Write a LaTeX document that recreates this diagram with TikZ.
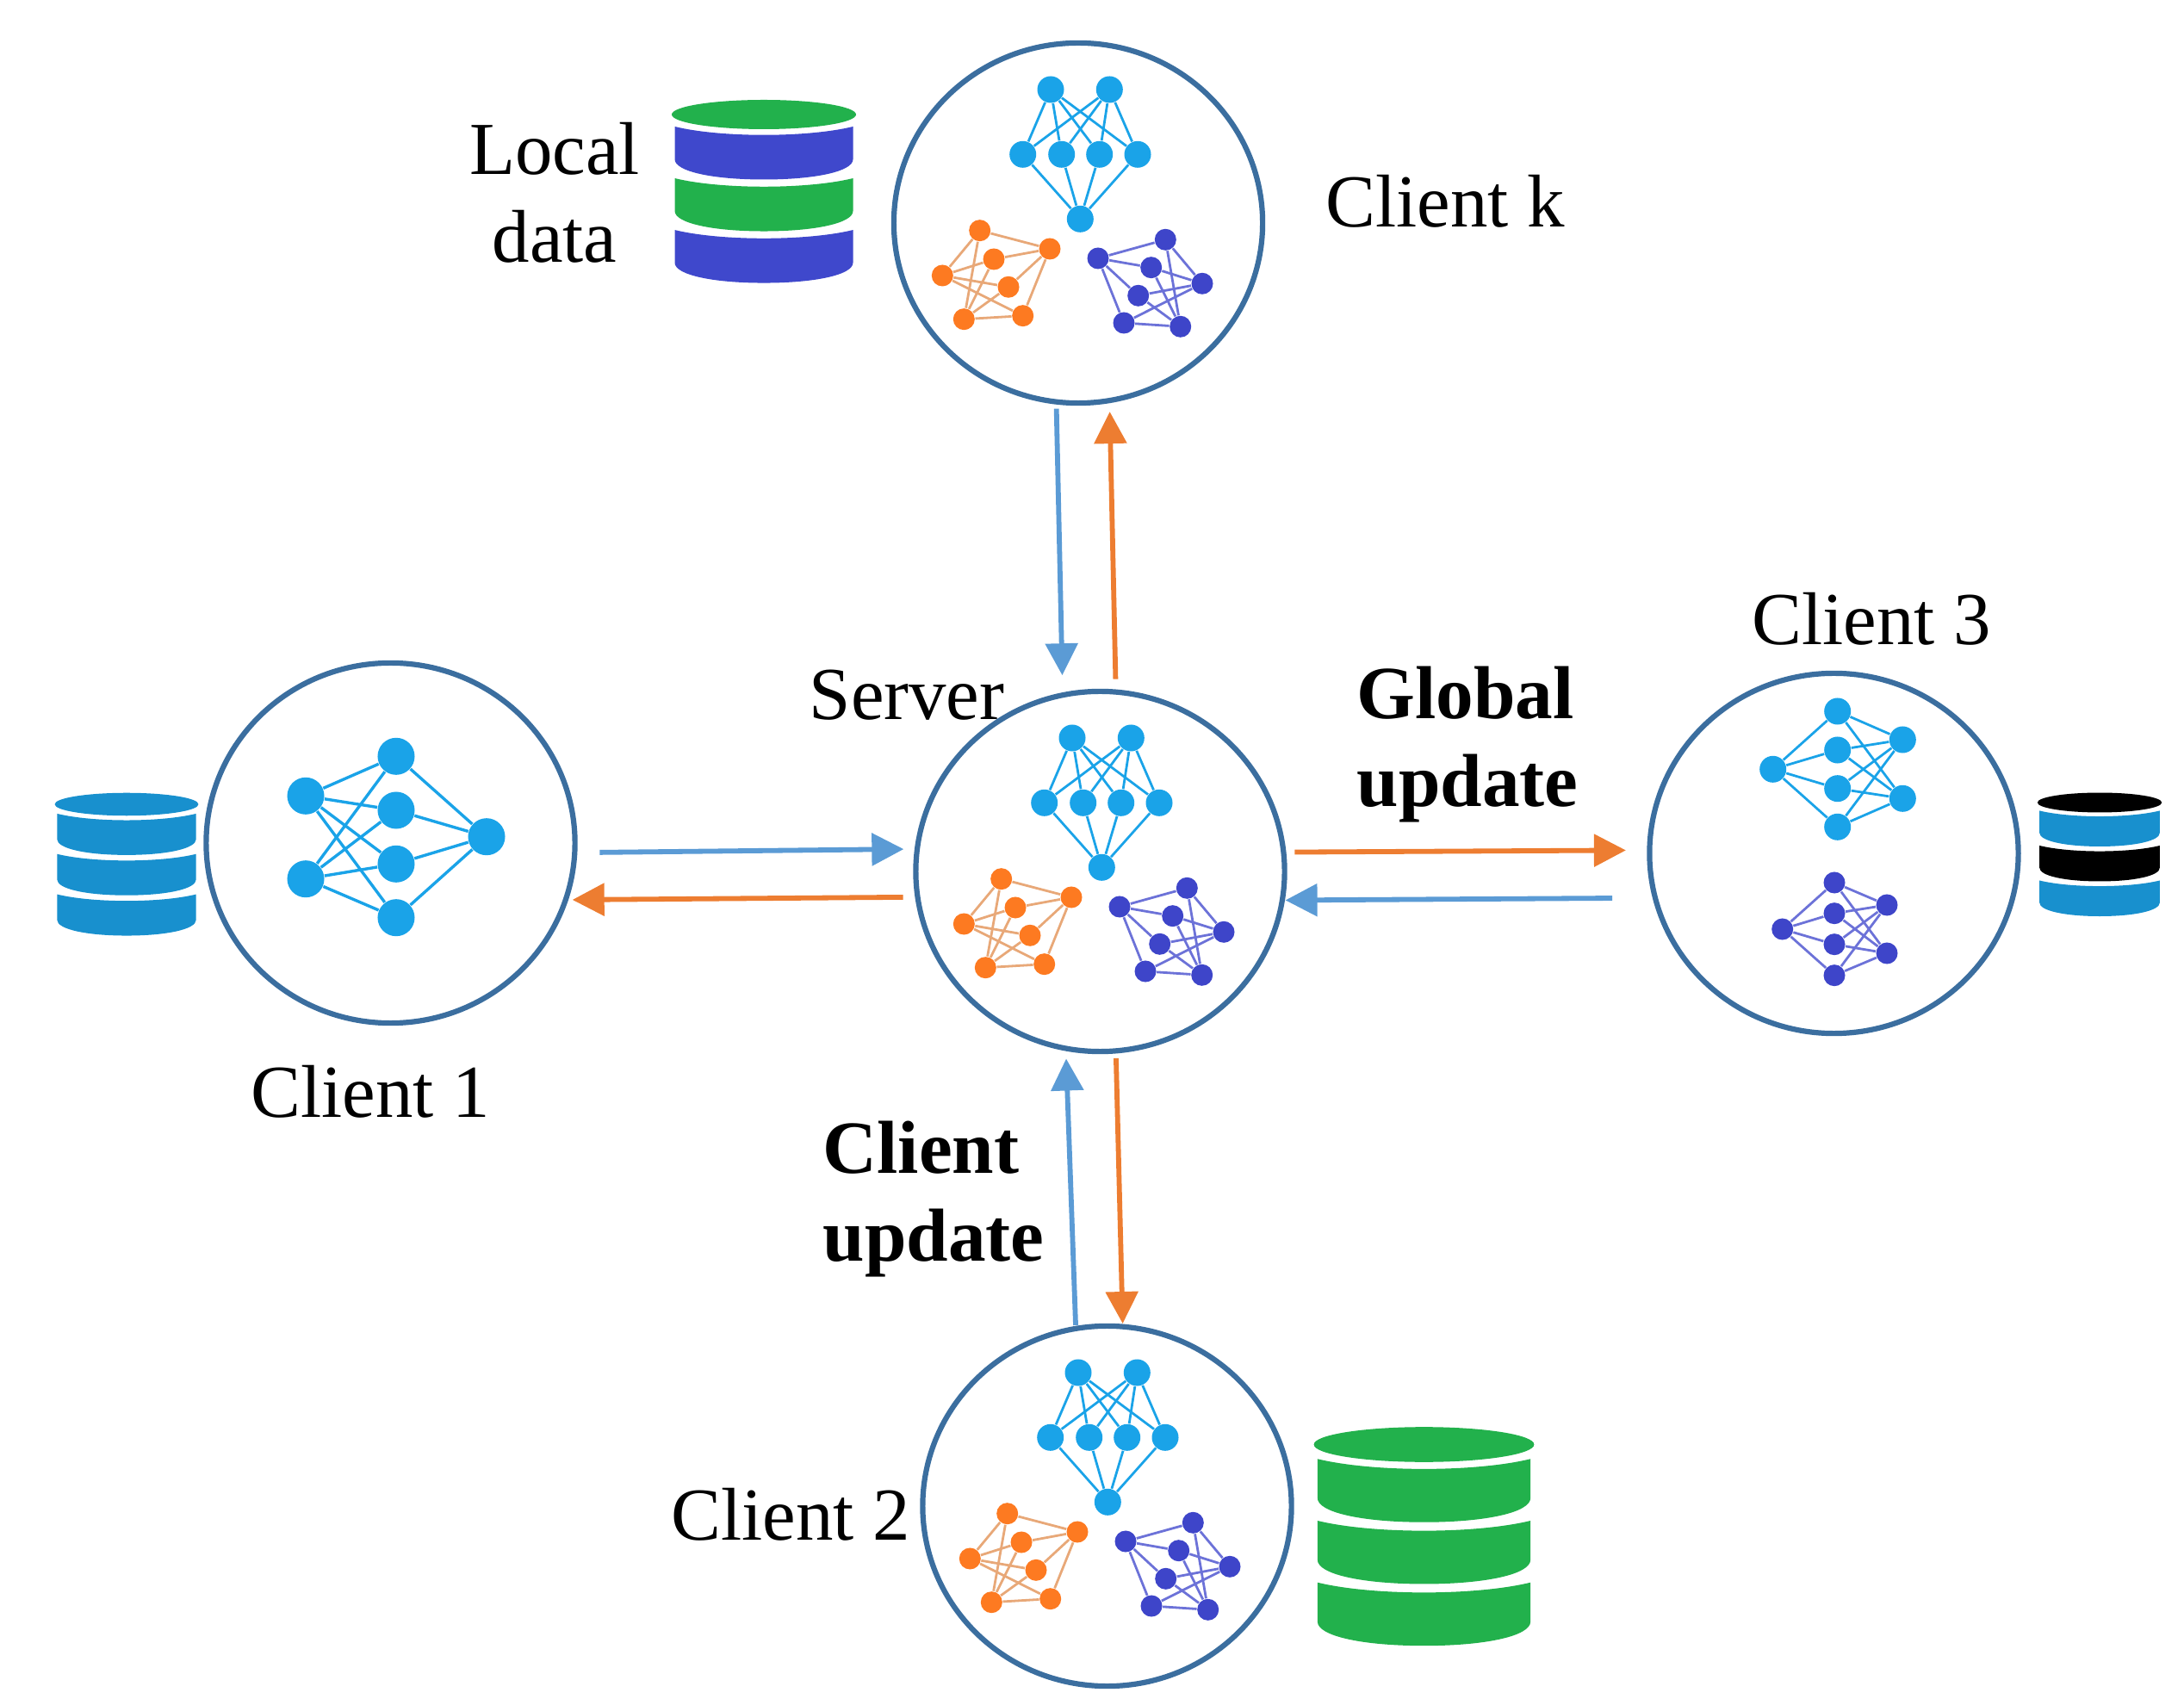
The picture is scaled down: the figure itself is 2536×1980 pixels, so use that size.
\documentclass[tikz,border=0pt]{standalone}
\usepackage{fontspec}
\setmainfont{Liberation Serif}
\usetikzlibrary{arrows.meta,shapes.geometric}
\definecolor{ringblue}{HTML}{3B6E9F}
\definecolor{netblue}{HTML}{1AA3E8}
\definecolor{netorange}{HTML}{FD7A21}
\definecolor{netpurple}{HTML}{3E45C9}
\definecolor{linkorange}{HTML}{E8A878}
\definecolor{linkpurple}{HTML}{6C72D8}
\definecolor{arrowblue}{HTML}{5B9BD5}
\definecolor{arrowred}{HTML}{ED7D31}
\definecolor{dbgreen}{HTML}{22B14C}
\definecolor{dbpurple}{HTML}{3F48CC}
\definecolor{dbblue}{HTML}{1890CE}
\tikzset{>={Triangle[length=.37cm,width=.37cm]}}
\tikzset{
  ring/.style={ellipse,draw=ringblue,line width=.062cm,minimum width=4.28cm,minimum height=4.18cm,inner sep=0,outer sep=0},
  bigdot/.style={circle,fill=netblue,minimum size=.43cm,inner sep=0},
  bluedot/.style={circle,fill=netblue,minimum size=.31cm,inner sep=0},
  orangedot/.style={circle,fill=netorange,minimum size=.25cm,inner sep=0},
  purpledot/.style={circle,fill=netpurple,minimum size=.25cm,inner sep=0},
  bluelink/.style={netblue,line width=.028cm},
  orangelink/.style={linkorange,line width=.028cm},
  purplelink/.style={linkpurple,line width=.028cm},
  uplink/.style={->,arrowblue,line width=.058cm},
  downlink/.style={->,arrowred,line width=.058cm},
  label/.style={font=\fontsize{24.7pt}{29pt}\selectfont,inner sep=0},
  boldlabel/.style={font=\fontsize{24.8pt}{29pt}\selectfont\bfseries,align=left,inner sep=0}
}
\newcommand{\dbband}[2]{
  \fill[#1,yshift=-#2cm] (-103.5,14) .. controls (-50,27) and (50,27) .. (103.5,14) -- (103.5,52) .. controls (103.5,66) and (60,75.5) .. (0,75.5) .. controls (-60,75.5) and (-103.5,66) .. (-103.5,52) -- cycle;
}
\newcommand{\dbstack}[7]{
  \begin{scope}[shift={(#1,#2)},scale=#3]
    \fill[#4] (0,0) ellipse (107 and 17);
    \dbband{#5}{0}
    \dbband{#6}{.6}
    \dbband{#7}{1.2}
  \end{scope}
}
\newcommand{\trionet}{
  \foreach \n/\x/\y in {a/-33/-154,b/35.3/-154,c/-65.3/-78.7,d/-20.3/-78.7,e/23.7/-78.7,f/68/-78.7,g/1.3/-3.7}
    \node[bluedot] (b\n) at (\x,\y) {};
  \foreach \n/\x/\y in {a/-115.3/9.7,b/-34/31,c/-99/43,d/-158.7/62,e/-82/75.3,f/-65.3/108.7,g/-133.7/112.7}
    \node[orangedot] (o\n) at (\x,\y) {};
  \foreach \n/\x/\y in {a/22/42,b/100.3/20.3,c/83.7/52.7,d/143/71.3,e/68.7/85.3,f/52/117,g/117.7/121.3}
    \node[purpledot] (p\n) at (\x,\y) {};
  \foreach \m in {c,d,e,f}{
    \draw[bluelink] (b\m) -- (bg);
    \draw[bluelink] (ba) -- (b\m);
    \draw[bluelink] (bb) -- (b\m);
  }
  \foreach \m in {a,c,e,f}{
    \draw[orangelink] (o\m) -- (ob);
    \draw[orangelink] (o\m) -- (od);
    \draw[orangelink] (o\m) -- (og);
  }
  \foreach \m in {b,c,e,f}{
    \draw[purplelink] (p\m) -- (pa);
    \draw[purplelink] (p\m) -- (pd);
    \draw[purplelink] (p\m) -- (pg);
  }
}
\begin{document}
\begin{tikzpicture}[x=.01cm,y=-.01cm]
  \useasboundingbox (0,0) rectangle (2536,1980);

  \node[ring] (clientk) at (1252,259) {};
  \node[ring] (clientone) at (453.5,979) {};
  \node[ring] (clienttwo) at (1285.5,1749) {};
  \node[ring] (clientthree) at (2129.5,991) {};
  \node[ring] (server) at (1277.5,1012) {};

  \begin{scope}[shift={(1253,258)},name prefix=k-] \trionet \end{scope}
  \begin{scope}[shift={(1278,1011)},name prefix=s-] \trionet \end{scope}
  \begin{scope}[shift={(1285,1748)},name prefix=t-] \trionet \end{scope}

  % client 1
  \foreach \n/\y in {a/924.3,b/1020.7} \node[bigdot] (c\n) at (355,\y) {};
  \foreach \n/\y in {c/878.3,d/941,e/1003.3,f/1065.7} \node[bigdot] (c\n) at (460,\y) {};
  \node[bigdot] (cg) at (565,971.7) {};
  \foreach \m in {c,d,e,f}{
    \draw[netblue,line width=.034cm] (ca) -- (c\m);
    \draw[netblue,line width=.034cm] (cb) -- (c\m);
    \draw[netblue,line width=.034cm] (c\m) -- (cg);
  }

  % client 3
  \node[bluedot] (ua) at (2058.7,893.3) {};
  \foreach \n/\y in {b/826,c/871,d/915.7,e/960.3} \node[bluedot] (u\n) at (2133.7,\y) {};
  \foreach \n/\y in {f/859,g/927.3} \node[bluedot] (u\n) at (2209.3,\y) {};
  \node[purpledot] (va) at (2069.7,1079) {};
  \foreach \n/\y in {b/1025,c/1060.7,d/1096.7,e/1132.7} \node[purpledot] (v\n) at (2130,\y) {};
  \foreach \n/\y in {f/1051,g/1107} \node[purpledot] (v\n) at (2191,\y) {};
  \foreach \m in {b,c,d,e}{
    \draw[bluelink] (ua) -- (u\m);
    \draw[bluelink] (u\m) -- (uf);
    \draw[bluelink] (u\m) -- (ug);
    \draw[purplelink] (va) -- (v\m);
    \draw[purplelink] (v\m) -- (vf);
    \draw[purplelink] (v\m) -- (vg);
  }

  \dbstack{887}{133}{1}{dbgreen}{dbpurple}{dbgreen}{dbpurple}
  \dbstack{147}{934}{.78}{dbblue}{dbblue}{dbblue}{dbblue}
  \dbstack{2438}{932}{.675}{black}{dbblue}{black}{dbblue}
  \dbstack{1653.5}{1677.5}{1.195}{dbgreen}{dbgreen}{dbgreen}{dbgreen}

  \draw[uplink,shorten <=.08cm,shorten >=.23cm] (clientk.263) -- (server.102.2);
  \draw[downlink,shorten <=.15cm,shorten >=.13cm] (server.85.1) -- (clientk.280.2);
  \draw[uplink,shorten <=.29cm,shorten >=.157cm] (clientone.-3.07) -- (server.173.2);
  \draw[downlink,shorten <=.17cm,shorten >=.08cm] (server.188.56) -- (clientone.342.4);
  \draw[downlink,shorten <=.13cm,shorten >=.275cm] (server.6.1) -- (clientthree.179.5);
  \draw[uplink,shorten <=.50cm,shorten >=.037cm] (clientthree.194.3) -- (server.351.44);
  \draw[uplink,shorten <=.04cm,shorten >=.12cm] (clienttwo.100.8) -- (server.259.4);
  \draw[downlink,shorten <=.085cm,shorten >=.036cm] (server.275.2) -- (clienttwo.85.1);

  \node[label,align=center] (localdata) at (644,224) {Local\\data};
  \node[label,anchor=base west] (namek) at (1539,264) {Client k};
  \node[label,anchor=base west] (nameone) at (291,1298) {Client 1};
  \node[label,anchor=base west] (nametwo) at (779,1788) {Client 2};
  \node[label,anchor=base west] (namethree) at (2034,749) {Client 3};
  \node[label,anchor=base west] (nameserver) at (939,836) {Server};
  \node[boldlabel] (globalupdate) at (1704,865) {Global\\update};
  \node[boldlabel] (clientupdate) at (1084,1393) {Client\\update};
\end{tikzpicture}
\end{document}
